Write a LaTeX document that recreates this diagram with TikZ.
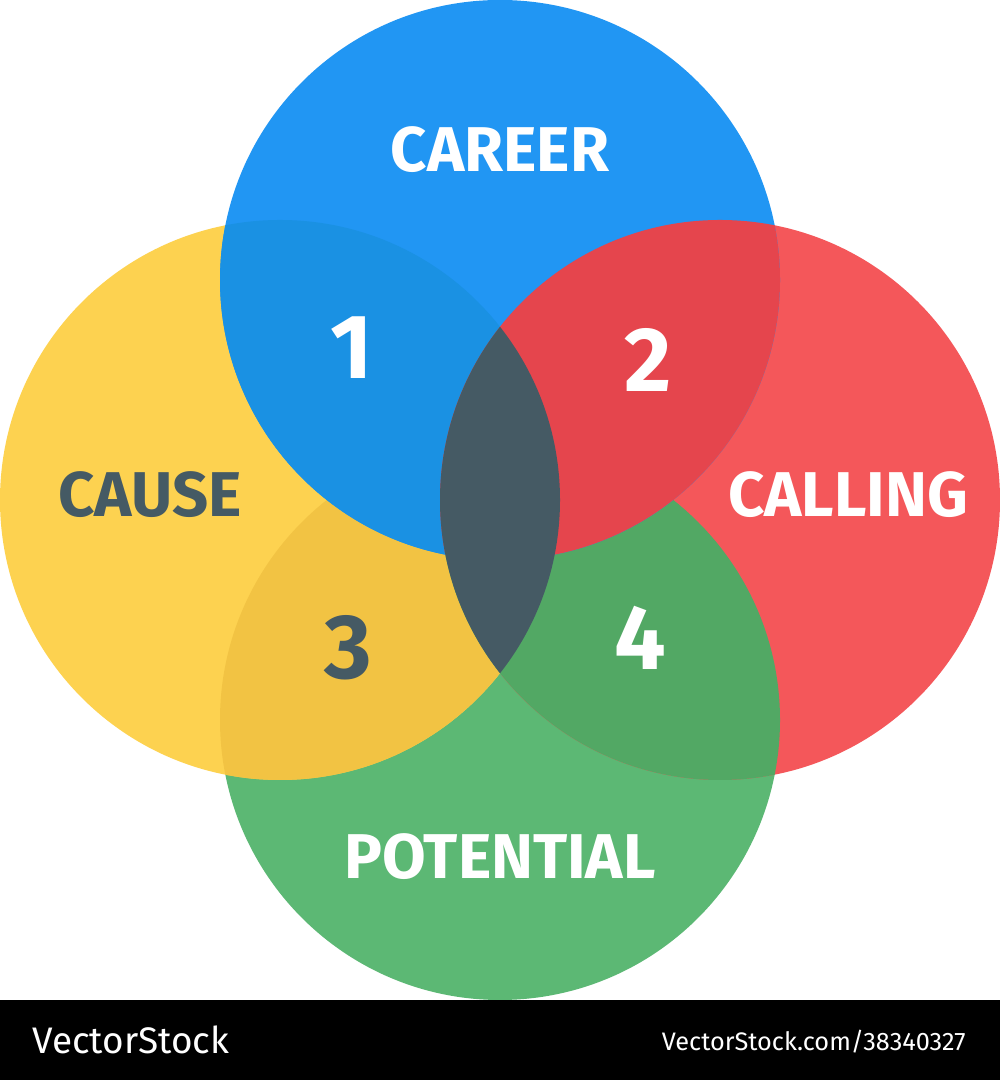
\documentclass[tikz,border=0pt]{standalone}
\usepackage{fontspec}
\setmainfont{Fira Sans}
\usetikzlibrary{positioning}
\definecolor{vblue}{HTML}{2196F3}
\definecolor{vred}{HTML}{F4575A}
\definecolor{vyellow}{HTML}{FDD250}
\definecolor{vgreen}{HTML}{5CB874}
\definecolor{vblueyel}{HTML}{1A91E3}
\definecolor{vbluered}{HTML}{E5454D}
\definecolor{vyelgreen}{HTML}{F2C343}
\definecolor{vgreenred}{HTML}{52A864}
\definecolor{vslate}{HTML}{455A64}
\begin{document}
\begin{tikzpicture}[
    title/.style={font=\fontsize{18}{18}\selectfont\bfseries, text=white},
    num/.style={font=\fontsize{26}{26}\selectfont\bfseries, text=white}
]
    \useasboundingbox (0,0) rectangle (10,10.8);
    \fill[white] (0,0) rectangle (10,10.8);
    % Circles
    \fill[vgreen] (5,3.6) circle (2.8);
    \fill[vyellow] (2.8,5.8) circle (2.8);
    \fill[vred] (7.2,5.8) circle (2.8);
    \begin{scope}
        \clip (5,3.6) circle (2.8);
        \fill[vyelgreen] (2.8,5.8) circle (2.8);
        \fill[vgreenred] (7.2,5.8) circle (2.8);
    \end{scope}
    \fill[vblue] (5,8) circle (2.8);
    % Overlaps
    \begin{scope}
        \clip (5,8) circle (2.8);
        \fill[vblueyel] (2.8,5.8) circle (2.8);
        \fill[vbluered] (7.2,5.8) circle (2.8);
    \end{scope}
    \begin{scope}
        \clip (2.8,5.8) circle (2.8);
        \fill[vslate] (7.2,5.8) circle (2.8);
    \end{scope}
    % Labels
    \node[title] (career) at (5,9.3) {CAREER};
    \node[title, text=vslate] (cause) at (1.5,5.85) {CAUSE};
    \node[title] (calling) at (8.48,5.85) {CALLING};
    \node[title] (potential) at (5,2.23) {POTENTIAL};
    \node[num] (one) at (3.52,7.32) {1};
    \node[num] (two) at (6.48,7.2) {2};
    \node[num, text=vslate] (three) at (3.48,4.32) {3};
    \node[num] (four) at (6.4,4.42) {4};
    % Footer
    \fill[black] (0,0) rectangle (10,0.8);
    \node[font=\fontsize{10.5}{10.5}\selectfont, text=white, anchor=west] (brand) at (0.2,0.4) {VectorStock};
    \node[font=\fontsize{7.2}{7.2}\selectfont, text=white, anchor=east] (ref) at (9.78,0.38) {VectorStock.com/38340327};
\end{tikzpicture}
\end{document}
